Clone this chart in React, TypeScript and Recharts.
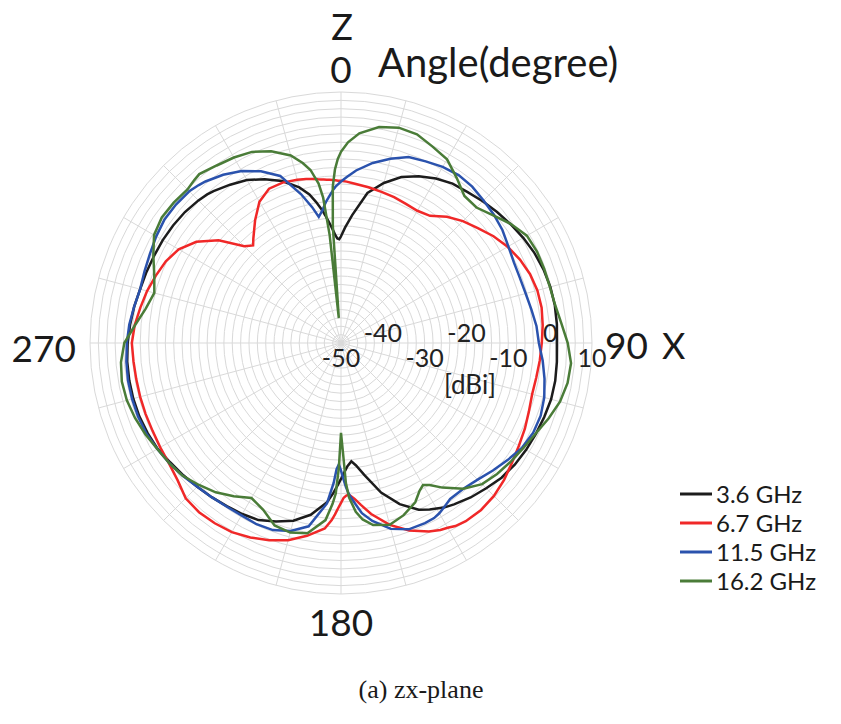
import React from 'react';
import { RadarChart, Radar, PolarGrid, PolarAngleAxis, PolarRadiusAxis, Legend } from 'recharts';

// angle in degrees, clockwise from +Z (top)
const angles = [0, 2, 5, 10, 15, 20, 25, 30, 35, 40, 45, 50, 55, 60, 65, 70, 75, 80, 85, 90,
  95, 100, 105, 110, 115, 120, 125, 130, 135, 140, 145, 148, 150, 152, 155, 160, 165, 170, 173, 175,
  177, 178, 179, 180, 181, 182, 183, 185, 190, 195, 200, 205, 210, 215, 220, 225, 230, 235, 240, 245,
  250, 255, 260, 265, 270, 275, 280, 285, 290, 295, 300, 305, 310, 315, 318, 320, 325, 330, 335, 340,
  345, 348, 350, 352, 353, 354, 355, 356, 357, 358, 359];

const gain36 = [-24.5, -22.4, -19.3, -13.6, -10.4, -7.8, -6.0, -4.6, -3.5, -2.9, -2.1, -1.3, -0.5, 0.3, 1.0, 1.5, 1.8, 1.9, 1.8, 1.6,
  1.8, 2.0, 2.0, 1.7, 1.4, 1.1, 0.7, 0.1, -0.9, -1.8, -2.9, -3.6, -4.3, -4.9, -6.0, -9.0, -13.0, -18.0, -20.5, -21.6,
  -20.5, -19.6, -18.6, -17.5, -16.4, -15.2, -14.0, -11.8, -8.3, -6.0, -4.6, -3.3, -2.8, -2.4, -1.9, -1.4, -0.8, -0.2, 0.6, 1.0,
  1.3, 1.4, 1.4, 1.3, 1.0, 0.6, 0.2, -0.3, -0.5, -0.7, -0.8, -1.0, -1.3, -1.8, -2.2, -2.6, -3.8, -5.0, -6.8, -8.8,
  -11.5, -13.7, -15.8, -18.0, -19.3, -20.6, -21.8, -23.0, -24.2, -25.0, -25.2];

const gain67 = [-11.2, -11.4, -11.8, -12.2, -12.6, -12.9, -13.3, -13.5, -12.9, -10.6, -8.8, -7.3, -5.5, -4.0, -2.8, -1.9, -1.4, -1.3, -1.6, -2.0,
  -2.3, -2.6, -2.7, -2.2, -1.5, -0.9, -0.1, 0.9, 1.7, 2.1, 2.0, 1.6, 1.0, 0.6, -0.3, -2.3, -5.0, -8.5, -11.0, -12.6,
  -13.7, -13.5, -13.0, -11.8, -10.5, -9.0, -7.6, -5.5, -3.2, -1.2, 0.2, 1.3, 2.2, 2.6, 2.8, 2.5, 1.0, 0.2, -0.1, -0.3,
  -0.3, -0.3, -0.3, -0.2, 0.0, -0.5, -1.3, -2.0, -2.9, -3.8, -5.2, -7.8, -11.8, -17.3, -18.6, -17.4, -14.2, -11.0, -9.3, -9.2,
  -9.6, -9.9, -10.2, -10.5, -10.6, -10.7, -10.8, -10.9, -11.0, -11.1, -11.2];

const gain115 = [-11.4, -10.3, -8.6, -6.3, -4.4, -2.7, -2.1, -1.4, -1.0, -1.2, -1.8, -2.3, -2.9, -3.8, -4.4, -4.5, -4.3, -3.8, -3.1, -2.7,
  -1.6, -0.6, 0.3, 0.8, 0.7, 0.0, -1.3, -2.6, -3.8, -4.5, -4.5, -3.6, -3.0, -2.6, -2.5, -2.6, -4.0, -6.8, -9.0, -11.5,
  -13.8, -15.5, -17.5, -19.5, -21.0, -19.8, -16.5, -11.5, -5.5, -3.5, -2.4, -2.2, -2.4, -2.3, -1.9, -1.4, -0.6, 0.1, 0.7, 1.3,
  1.6, 1.7, 1.7, 1.5, 1.2, 0.8, 0.2, -0.3, 0.0, 0.4, 1.0, 1.5, 1.5, 1.3, 0.8, 0.4, -0.9, -2.5, -4.7, -7.5,
  -13.2, -16.8, -19.4, -18.0, -17.0, -16.0, -15.2, -14.3, -13.4, -12.6, -12.0];

const gain162 = [-4.3, -2.0, 0.3, 2.4, 3.3, 3.1, 1.8, 0.7, -1.8, -4.1, -4.2, -2.5, -0.4, 1.3, 1.7, 1.7, 1.7, 2.0, 2.9, 4.2,
  5.2, 5.0, 4.2, 2.8, 1.3, 0.3, -0.5, -1.3, -2.3, -4.5, -7.8, -10.0, -10.8, -10.0, -8.0, -6.2, -5.0, -5.8, -7.5, -9.5,
  -13.0, -16.5, -24.0, -28.5, -20.0, -14.0, -11.5, -7.5, -3.8, -3.1, -3.6, -6.0, -7.2, -5.3, -3.4, -2.0, -0.6, 0.1, 0.7, 1.6,
  2.4, 3.0, 3.2, 2.8, 1.8, -0.6, -2.6, -3.8, -2.5, -0.5, 1.6, 2.3, 2.2, 1.9, 2.4, 2.7, 1.8, 1.2, 0.4, -1.2,
  -3.6, -6.0, -8.0, -11.5, -15.0, -24.0, -44.0, -22.0, -12.5, -8.5, -6.0];

const seriesNames = ['3.6 GHz', '6.7 GHz', '11.5 GHz', '16.2 GHz'];
const seriesKeys = ['f36', 'f67', 'f115', 'f162'];
const seriesColors = ['#1c1c1c', '#f02828', '#2a52ad', '#4a7c38'];

const radiusTicks = [-50, -48, -46, -44, -42, -40, -38, -36, -34, -32, -30, -28, -26, -24, -22, -20,
  -18, -16, -14, -12, -10, -8, -6, -4, -2, 0, 2, 4, 6, 8, 10];
const radiusLabels = [-50, -40, -30, -20, -10, 0, 10];
const angleTicks = [0, 15, 30, 45, 60, 75, 90, 105, 120, 135, 150, 165, 180, 195, 210, 225, 240, 255,
  270, 285, 300, 315, 330, 345];
const angleLabels = [0, 90, 180, 270];

const chartData = angles.map((a, i) => ({
  angle: a,
  f36: gain36[i],
  f67: gain67[i],
  f115: gain115[i],
  f162: gain162[i],
}));

const FONT = 'Lato, "Open Sans", sans-serif';

const RadiusTick = (props: any) => {
  const { x, y, payload } = props;
  const v = payload.value;
  const idx = radiusLabels.indexOf(v);
  if (idx < 0) return <g />;
  const dy = idx % 2 === 0 ? 14 : -11;
  return (
    <text x={x} y={y + dy} textAnchor="middle" dominantBaseline="central" fontSize={25} fill="#222" fontFamily={FONT}>
      {v}
    </text>
  );
};

const labelPlacement: Record<number, { d: number; anchor: string; dy: number }> = {
  0: { d: 16, anchor: 'middle', dy: 0 },
  90: { d: 5, anchor: 'start', dy: 1 },
  180: { d: 19, anchor: 'middle', dy: 0 },
  270: { d: 6, anchor: 'end', dy: 4 },
};

const AngleTick = (props: any) => {
  const { x, y, payload } = props;
  const v = payload.value;
  const p = labelPlacement[v];
  if (!p || angleLabels.indexOf(v) < 0) return <g />;
  const rad = (v * Math.PI) / 180;
  const ux = Math.sin(rad);
  const uy = -Math.cos(rad);
  return (
    <text x={x + ux * p.d} y={y + uy * p.d + p.dy} textAnchor={p.anchor as any} dominantBaseline="central"
      fontSize={37} fill="#1a1a1a" fontFamily={FONT}>
      {v}
    </text>
  );
};

const LegendContent = () => (
  <div style={{ fontFamily: FONT, fontSize: 24, color: '#1a1a1a' }}>
    {seriesNames.map((n, i) => (
      <div key={n} style={{ display: 'flex', alignItems: 'center', height: 29 }}>
        <svg width={34} height={10} style={{ marginRight: 2 }}>
          <line x1={0} y1={5} x2={32} y2={5} stroke={seriesColors[i]} strokeWidth={3} />
        </svg>
        <span style={{ lineHeight: '29px' }}>{n}</span>
      </div>
    ))}
  </div>
);

export default function App() {
  return (
    <div style={{ position: 'absolute', left: 0, top: 0, width: 841, height: 724, background: '#fff', fontFamily: FONT }}>
      <RadarChart width={841} height={724} data={chartData} cx={341} cy={343} outerRadius={251} innerRadius={0}
        startAngle={90} endAngle={-270} margin={{ top: 0, right: 0, bottom: 0, left: 0 }}>
        <PolarGrid gridType="circle" stroke="#d9d9d9" strokeWidth={1} />
        <PolarAngleAxis dataKey="angle" type="number" domain={[0, 360]} ticks={angleTicks}
          axisLine={false} tickLine={false} tick={<AngleTick />} />
        <PolarRadiusAxis angle={0} type="number" domain={[-50, 10]} ticks={radiusTicks}
          axisLine={false} tick={<RadiusTick />} />
        {seriesKeys.map((k, i) => (
          <Radar key={k} name={seriesNames[i]} dataKey={k} stroke={seriesColors[i]} strokeWidth={2.5}
            fill="none" fillOpacity={0} dot={false} isAnimationActive={false} legendType="plainline" />
        ))}
        <Legend content={<LegendContent />} wrapperStyle={{ position: 'absolute', left: 680, top: 479, width: 160 }} />
      </RadarChart>
      <svg width={841} height={724} style={{ position: 'absolute', left: 0, top: 0, pointerEvents: 'none' }}>
        <text x={342} y={26} textAnchor="middle" dominantBaseline="central" fontSize={36} fill="#1a1a1a" fontFamily={FONT}>Z</text>
        <text x={378} y={62} dominantBaseline="central" fontSize={40} fill="#1a1a1a" fontFamily={FONT}>Angle(degree)</text>
        <text x={662} y={345} dominantBaseline="central" fontSize={36} fill="#1a1a1a" fontFamily={FONT}>X</text>
        <text x={470} y={384} textAnchor="middle" dominantBaseline="central" fontSize={26} fill="#222" fontFamily={FONT}>[dBi]</text>
        <text x={421} y={689} textAnchor="middle" dominantBaseline="central" fontSize={26} fill="#1a1a1a"
          fontFamily='"Liberation Serif", "Times New Roman", serif'>(a) zx-plane</text>
      </svg>
    </div>
  );
}
